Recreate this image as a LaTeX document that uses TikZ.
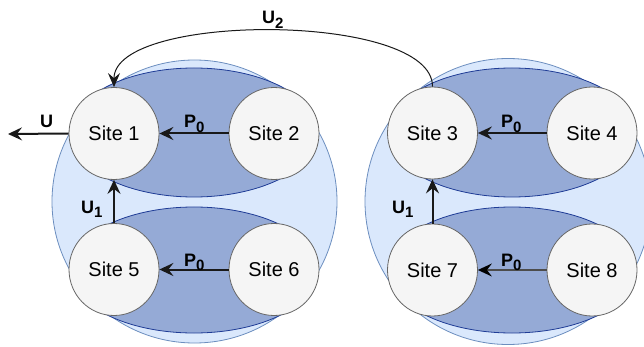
\documentclass[tikz,border=0pt]{standalone}
\usepackage{fontspec}
\setmainfont{Liberation Sans}
\usetikzlibrary{arrows.meta,shapes.geometric}
\definecolor{bigfill}{HTML}{DAE8FC}
\definecolor{bigdraw}{HTML}{6C8EBF}
\definecolor{ellfill}{HTML}{95AAD6}
\definecolor{elldraw}{HTML}{1F3C96}
\definecolor{sitefill}{HTML}{F5F5F5}
\definecolor{sitedraw}{HTML}{666666}
\newcommand\lsub[1]{\raisebox{-0.45ex}{\fontsize{15}{15}\selectfont #1}}
\begin{document}
\begin{tikzpicture}[x=1pt,y=-1pt,
  bigc/.style={ellipse,draw=bigdraw,fill=bigfill,line width=0.8pt,inner sep=0pt},
  ell/.style={ellipse,draw=elldraw,fill=ellfill,line width=0.8pt,inner sep=0pt,minimum width=248pt},
  site/.style={ellipse,draw=sitedraw,fill=sitefill,line width=0.8pt,inner sep=0pt,
    minimum width=90pt,minimum height=92pt,font=\fontsize{20}{24}\selectfont},
  lbl/.style={anchor=base west,inner sep=0pt,font=\fontsize{18}{20}\selectfont\bfseries},
  arr/.style={-{Stealth[length=14pt,width=13pt,inset=5pt]},line width=2pt,draw=black!90},
  arrthin/.style={-{Stealth[length=14pt,width=12pt,inset=5pt]},line width=1pt,draw=black!90},
  arrgray/.style={-{Stealth[length=14pt,width=13pt,inset=5pt,fill=black,color=black]},line width=1.3pt,draw=black!70}]
\useasboundingbox (0,0) rectangle (644,347);
% big circles
\node[bigc,minimum width=285pt,minimum height=283pt] (c1) at (194.5,201.5) {};
\node[bigc,minimum width=286pt,minimum height=286pt] (c2) at (508,201.5) {};
% dark ellipses
\node[ell,minimum height=129pt] (e1) at (194,132.5) {};
\node[ell,minimum height=126pt] (e2) at (194,270) {};
\node[ell,minimum height=129pt] (e3) at (512,132.5) {};
\node[ell,minimum height=126pt] (e4) at (512,270) {};
% sites
\node[site] (s1) at (114,133.5) {Site 1};
\node[site] (s2) at (274,133.5) {Site 2};
\node[site] (s5) at (114,269.5) {Site 5};
\node[site] (s6) at (274,269.5) {Site 6};
\node[site] (s3) at (432.5,133) {Site 3};
\node[site] (s4) at (592,133) {Site 4};
\node[site] (s7) at (432.5,270) {Site 7};
\node[site] (s8) at (592,270) {Site 8};
% connectors
\coordinate (uend) at (8,134);
\draw[arr] (s1.west) -- (uend);
\draw[arr] (s2.west) -- (s1.east);
\draw[arr] (s6.west) -- (s5.east);
\draw[arr] (s5.north) -- (s1.south);
\draw[arr] (s4.west) -- (s3.east);
\draw[arrgray] (s8.west) -- (s7.east);
\draw[arr] (s7.north) -- (s3.south);
\draw[arrthin] (s3.north) .. controls (433,12) and (114,12) .. (s1.north);
% labels
\node[lbl] (lu) at (40,128) {U};
\node[lbl] (lp1) at (184,128) {P\lsub{0}};
\node[lbl] (lp2) at (184,266) {P\lsub{0}};
\node[lbl] (lu1) at (81,213) {U\lsub{1}};
\node[lbl] (lu2) at (262,24) {U\lsub{2}};
\node[lbl] (lp3) at (501,128) {P\lsub{0}};
\node[lbl] (lp4) at (501,266) {P\lsub{0}};
\node[lbl] (lu3) at (392,213) {U\lsub{1}};
\end{tikzpicture}
\end{document}
